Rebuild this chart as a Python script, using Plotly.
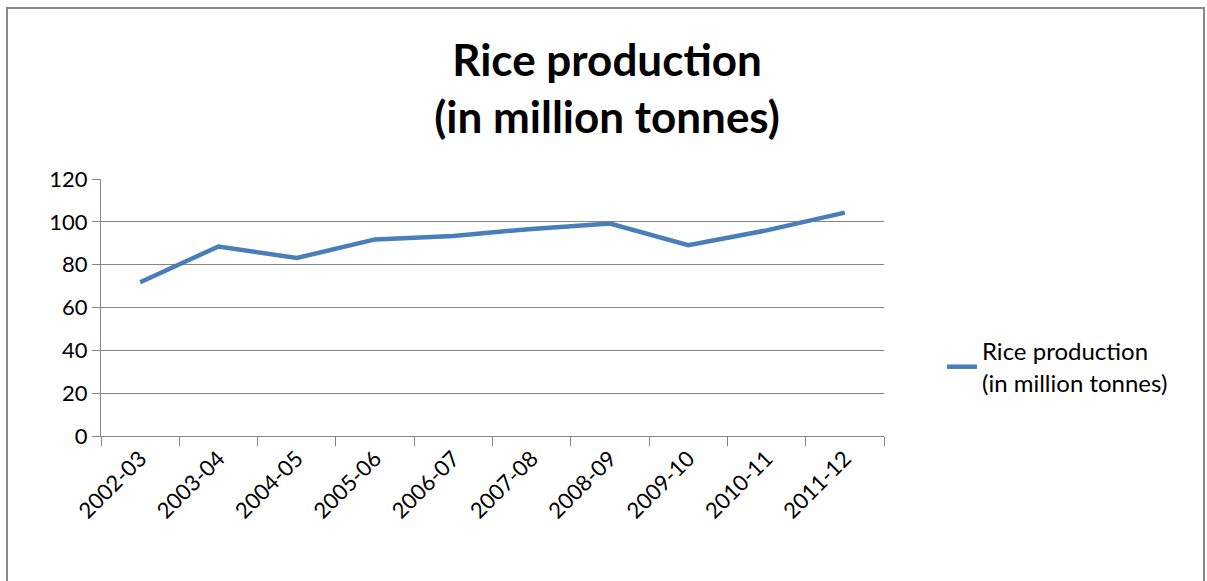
import plotly.graph_objects as go

categories = ["2002-03", "2003-04", "2004-05", "2005-06", "2006-07",
              "2007-08", "2008-09", "2009-10", "2010-11", "2011-12"]
rice_production = [71.8, 88.5, 83.1, 91.8, 93.4, 96.7, 99.2, 89.1, 96.0, 104.3]
y_ticks = [0, 20, 40, 60, 80, 100, 120]

W, H = 1207, 581
L, R, T, B = 101, 884, 179, 436
FONT = "Lato, 'Open Sans', sans-serif"
GREY = "#868686"

fig = go.Figure()
fig.add_trace(go.Scatter(
    x=categories, y=rice_production, mode="lines",
    name="Rice production<br>(in million tonnes)",
    line=dict(color="#4A7EBB", width=4.5),
))

def px_to_paper_x(px):
    return (px - L) / (R - L)

def px_to_paper_y(py):
    return (B - py) / (B - T)

fig.update_layout(
    width=W, height=H,
    margin=dict(l=L, r=W - R, t=T, b=H - B, pad=0),
    paper_bgcolor="white", plot_bgcolor="white",
    font=dict(family=FONT, size=22, color="#000000"),
    title=dict(
        text="<b>Rice production<br>(in million tonnes)</b>",
        font=dict(family=FONT, size=44, color="#000000"),
        x=px_to_paper_x(607), xanchor="center", xref="paper",
        y=1 - 76 / H, yanchor="middle", yref="container",
    ),
    xaxis=dict(
        type="category", range=[-0.5, 9.5],
        showgrid=False, showline=True, linecolor=GREY, linewidth=1,
        ticks="outside", tickson="boundaries", ticklen=9, tickcolor=GREY,
        tickangle=-45, tickfont=dict(size=22, color="#000000"),
    ),
    yaxis=dict(
        range=[0, 120], tickvals=y_ticks,
        showgrid=True, gridcolor=GREY, gridwidth=1,
        showline=True, linecolor=GREY, linewidth=1,
        ticks="outside", ticklen=8, tickcolor=GREY,
        tickfont=dict(size=22, color="#000000"),
        zeroline=False,
    ),
    showlegend=True,
    legend=dict(
        x=px_to_paper_x(942), y=px_to_paper_y(367),
        xanchor="left", yanchor="middle",
        font=dict(size=24, color="#000000"),
        itemwidth=30, bgcolor="rgba(0,0,0,0)",
    ),
    shapes=[dict(
        type="rect", xref="paper", yref="paper",
        x0=px_to_paper_x(7), x1=px_to_paper_x(1204),
        y0=px_to_paper_y(600), y1=px_to_paper_y(8),
        line=dict(color="#8a8a8a", width=2), fillcolor="rgba(0,0,0,0)",
        layer="below",
    )],
)

fig.write_html("out.html")
